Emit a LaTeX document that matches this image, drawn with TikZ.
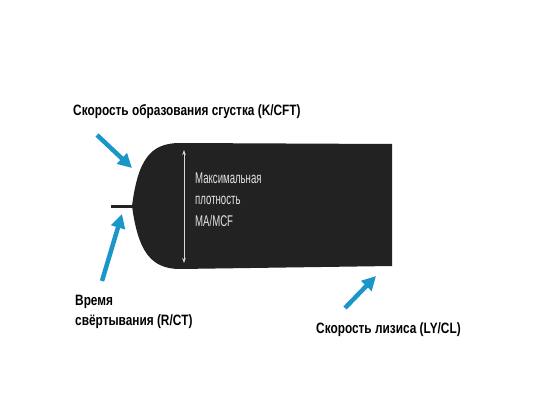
\documentclass[tikz,border=0pt]{standalone}
\usepackage{fontspec}
\setmainfont{Liberation Sans}
\newfontfamily\narrowbold[FakeStretch=0.79]{Liberation Sans Bold}
\newfontfamily\narrowlight[FakeStretch=0.62]{Liberation Sans}
\usetikzlibrary{arrows.meta}
\definecolor{pointer}{RGB}{26,150,200}
\definecolor{trace}{RGB}{34,34,34}
\tikzset{
  pointerarrow/.style={draw=pointer,line width=4.5pt,-{Triangle[length=14pt,width=14pt]}},
  caption/.style={anchor=west,inner sep=0pt,font=\narrowbold\fontsize{15}{15}\selectfont},
  inner/.style={anchor=west,inner sep=0pt,text=white!90!black,font=\narrowlight\fontsize{15.5}{15.5}\selectfont}
}
\begin{document}
\begin{tikzpicture}[x=1pt,y=-1pt]
\useasboundingbox (0,0) rectangle (539,415);

% trace
\draw[trace,line width=3pt] (111,206) -- (133,206);
\fill[trace] (132,206) .. controls (138,160) and (150,143) .. (180,143) -- (392,144)
  -- (392,266) -- (180,269) .. controls (150,269) and (138,250) .. (132,206) -- cycle;
\draw[white!85!black,line width=0.8pt,{Stealth[length=5pt,width=3.5pt]}-{Stealth[length=5pt,width=3.5pt]}] (184,150) -- (184,263);
\node[inner] (ma1) at (195,178) {Максимальная};
\node[inner] (ma2) at (195,200) {плотность};
\node[inner] (ma3) at (195,221) {MA/MCF};

% labels
\node[caption] (kcft) at (73,112) {Скорость образования сгустка (K/CFT)};
\node[caption] (rct1) at (75,302) {Время};
\node[caption] (rct2) at (75,322) {свёртывания (R/CT)};
\node[caption] (lycl) at (316,330) {Скорость лизиса (LY/CL)};

% pointers
\coordinate (k0) at (97,135);
\coordinate (k1) at (132,168);
\coordinate (r0) at (102,281);
\coordinate (r1) at (122,214);
\coordinate (l0) at (345,308);
\coordinate (l1) at (376,276);
\draw[pointerarrow] (k0) -- (k1);
\draw[pointerarrow] (r0) -- (r1);
\draw[pointerarrow] (l0) -- (l1);
\end{tikzpicture}
\end{document}
